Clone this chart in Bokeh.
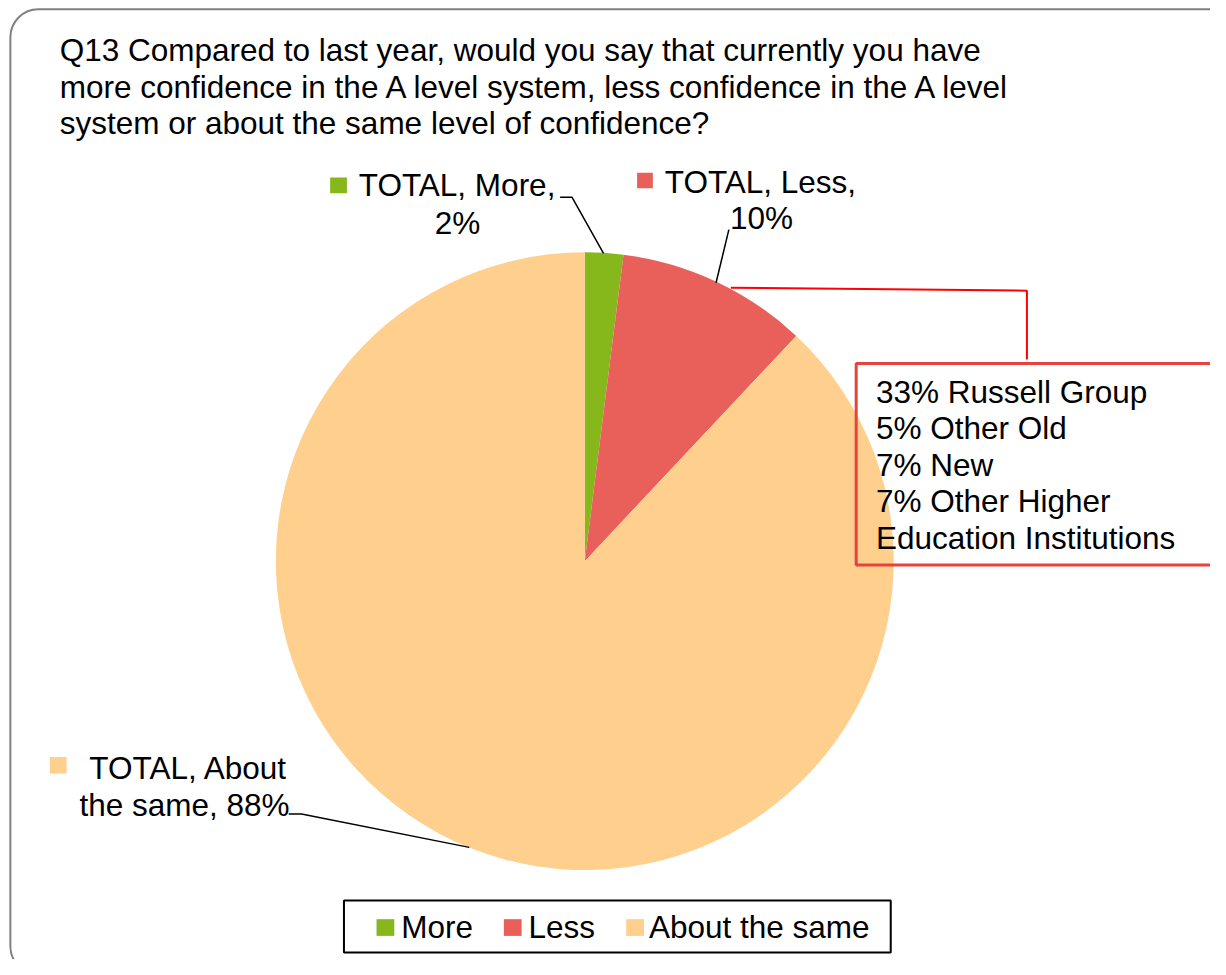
import math
from bokeh.plotting import figure
from bokeh.models import ColumnDataSource, Range1d, BoxAnnotation
from bokeh.core.properties import value
from bokeh.embed import file_html
from bokeh.resources import INLINE

# ---- data ----
categories = ["More", "Less", "About the same"]
values = [2, 10, 88]
colors = ["#86B81C", "#E9605A", "#FECF8D"]
label_prefix = "TOTAL"
callout_lines = ["33% Russell Group", "5% Other Old", "7% New",
                 "7% Other Higher", "Education Institutions"]
title_lines = ["Q13 Compared to last year, would you say that currently you have",
               "more confidence in the A level system, less confidence in the A level",
               "system or about the same level of confidence?"]

FONT = value("Liberation Sans")
FS = "31.5px"
W, H = 1226, 975


def Y(v):
    return H - v


p = figure(width=1210, height=959, x_range=Range1d(0, W), y_range=Range1d(0, H),
           x_axis_type=None, y_axis_type=None, toolbar_location=None,
           output_backend="svg", min_border=0)
p.grid.visible = False
p.outline_line_color = None
p.background_fill_color = "white"
p.border_fill_color = "white"

# rounded outer border
p.add_layout(BoxAnnotation(left=10, right=1262, top=Y(9), bottom=Y(990),
                           fill_alpha=0, line_color="#808080", line_alpha=1.0,
                           line_width=2, border_radius=28))

# ---- pie ----
cx, cy, r = 592, Y(570), 313
total = float(sum(values))
starts, ends = [], []
cum = 0.0
for v in values:
    starts.append(math.pi / 2 - 2 * math.pi * cum / total)
    cum += v
    ends.append(math.pi / 2 - 2 * math.pi * cum / total)
src = ColumnDataSource(dict(cat=categories, val=values, color=colors,
                            start=starts, end=ends))
p.wedge(x=cx, y=cy, radius=r, start_angle="start", end_angle="end",
        direction="clock", fill_color="color", line_color=None, source=src)


# ---- helpers (y given as the visual centre of the text line) ----
def txt(x, y, s, size=FS, align="left", color="black"):
    p.text(x=[x], y=[Y(y)], text=[s], text_font=FONT, text_font_size=size,
           text_align=align, text_baseline="alphabetic", text_color=color)


def sq(x0, y0, x1, y1, c):
    p.quad(left=[x0], right=[x1], top=[Y(y0)], bottom=[Y(y1)], fill_color=c,
           line_color=None)


# More
sq(334, 180, 351, 196, colors[0])
txt(363, 188, f"{label_prefix}, {categories[0]},")
txt(463, 226, f"{values[0]}%", align="center")
p.line(x=[567, 579, 611], y=[Y(200), Y(200), Y(257)], line_color="black", line_width=1.5)

# Less
sq(645, 175, 661, 191, colors[1])
txt(673, 185, f"{label_prefix}, {categories[1]},")
txt(771, 221, f"{values[1]}%", align="center")
p.line(x=[738, 725], y=[Y(233), Y(287)], line_color="black", line_width=1.5)

# About the same
sq(50, 769, 67, 786, colors[2])
txt(90, 780, f"{label_prefix}, About")
txt(80, 818, f"the same, {values[2]}%")
p.line(x=[292, 305, 475], y=[Y(827), Y(827), Y(861)], line_color="black", line_width=1.5)

# ---- callout ----
p.line(x=[740, 1040, 1040], y=[Y(292), Y(295), Y(365)], line_color="#FF0000", line_width=2)
p.quad(left=[867], right=[1250], top=[Y(369)], bottom=[Y(574)], fill_alpha=0,
       line_color="#E8423C", line_width=3)
for i, s in enumerate(callout_lines):
    txt(887, 398 + i * 37, s)

# ---- title ----
for i, s in enumerate(title_lines):
    txt(60, 50 + i * 37.5, s)

# ---- legend ----
p.quad(left=[348], right=[902], top=[Y(915)], bottom=[Y(968)], fill_alpha=0,
       line_color="black", line_width=2)
leg_sq_x = [381, 510, 634]
leg_tx_x = [406, 535, 657]
for i, c in enumerate(categories):
    sq(leg_sq_x[i], 934, leg_sq_x[i] + 18, 951, colors[i])
    txt(leg_tx_x[i], 942, c)

open("out.html", "w").write(file_html(p, INLINE))
